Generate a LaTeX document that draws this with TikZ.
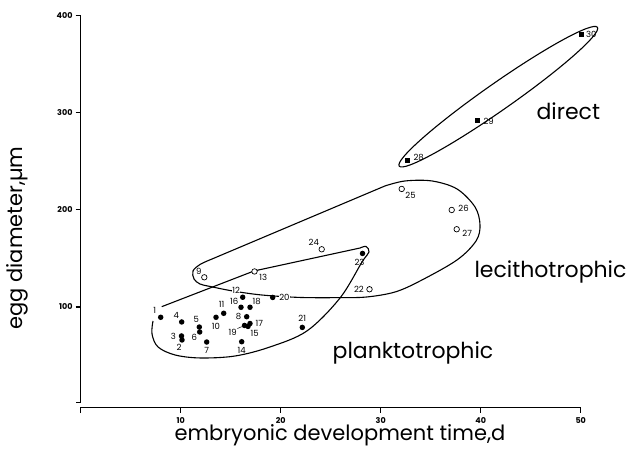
\documentclass[tikz,border=0pt]{standalone}
\usepackage{fontspec}
\setmainfont{Poppins}
\usetikzlibrary{positioning}

\tikzset{
  dot/.style={circle,fill=black,inner sep=0pt,minimum size=5.5pt},
  ring/.style={circle,draw,fill=white,line width=0.7pt,inner sep=0pt,minimum size=5.5pt},
  sqr/.style={rectangle,fill=black,inner sep=0pt,minimum size=5pt},
  num/.style={font=\fontsize{8.5}{8.5}\selectfont,inner sep=0.4pt},
  ticklbl/.style={font=\fontsize{8}{8}\selectfont\bfseries,inner sep=0pt},
  zone/.style={font=\fontsize{22}{22}\selectfont,inner sep=0pt},
  axtitle/.style={font=\fontsize{21}{21}\selectfont,inner sep=0pt},
  rim/.style={line width=1.1pt},
}

\begin{document}
\begin{tikzpicture}[x=10pt,y=0.973pt,node distance=1pt]
\useasboundingbox (-8.07,-48) rectangle (54.53,415.5);

% axes
\draw[rim] (-0.5,400) -- (0,400) -- (0,1.6) -- (-0.5,1.6);
\foreach \v in {100,200,300}
  \draw[rim] (-0.5,\v) -- (0,\v);
\foreach \v in {100,200,300,400}
  \node[ticklbl,anchor=east] (ty\v) at (-0.8,\v) {\v};
\draw[rim] (0,-9.2) -- (0,-3.5) -- (50,-3.5) -- (50,-9.2);
\foreach \t in {10,20,30,40}
  \draw[rim] (\t,-3.5) -- (\t,-9.2);
\foreach \t in {10,20,30,40,50}
  \node[ticklbl] (tx\t) at (\t,-17) {\t};

\node[axtitle,anchor=base] (xtitle) at (25.93,-37.7) {embryonic development time,d};
\node[axtitle,anchor=base,rotate=90] (ytitle) at (-5.77,170.9) {egg diameter,µm};

% zones
\draw[rim] plot[smooth,tension=0.55] coordinates {(7.23,85.6) (7.13,72.3) (7.73,58.9) (9.43,50.7) (11.93,47.6) (15.43,49.6) (18.93,58.9) (22.63,75.4) (25.93,109.2) (28.13,146.2) (28.83,156.5) (28.53,162.2) (27.93,160.6)} -- (17.33,137.0) -- (8.1,100.3);
\draw[rim] plot[smooth,tension=0.55] coordinates {(30.43,224.4) (32.43,229.5) (35.13,229.5) (37.63,221.3) (39.43,202.8) (39.93,184.3) (39.53,167.8) (37.63,148.3) (33.93,126.7) (31.43,115.4) (28.63,110.3) (25.93,109.6) (21.93,109.8) (18.13,112.3) (15.23,116.4) (12.93,121.1) (11.93,123.6) (11.33,128.8) (11.23,137.0) (11.93,143.7) (13.13,149.3)} -- cycle;
\draw[rim,rotate around={35:(41.76,316.1)}] (41.76,316.1) ellipse [x radius=121pt,y radius=13.5pt];

\node[zone,anchor=base] (direct) at (48.76,292.2) {direct};
\node[zone,anchor=base] (lecitho) at (46.98,130.8) {lecithotrophic};
\node[zone,anchor=base] (plankto) at (33.23,47.1) {planktotrophic};

% species
\node[dot] (p1) at (8.0,89.4) {};
\node[dot] (p2) at (10.13,66.1) {};
\node[dot] (p3) at (10.08,70.2) {};
\node[dot] (p4) at (10.1,84.6) {};
\node[dot] (p5) at (11.86,79.4) {};
\node[dot] (p6) at (11.9,74.3) {};
\node[dot] (p7) at (12.6,64.0) {};
\node[dot] (p8) at (16.6,90.0) {};
\node[ring] (p9) at (12.36,130.5) {};
\node[dot] (p10) at (13.53,89.4) {};
\node[dot] (p11) at (14.3,93.5) {};
\node[dot] (p12) at (16.2,110.0) {};
\node[ring] (p13) at (17.38,136.5) {};
\node[dot] (p14) at (16.1,64.3) {};
\node[dot] (p15) at (16.73,80.0) {};
\node[dot] (p16) at (16.03,99.7) {};
\node[dot] (p17) at (16.93,83.0) {};
\node[dot] (p18) at (16.93,99.7) {};
\node[dot] (p19) at (16.38,81.0) {};
\node[dot] (p20) at (19.2,109.8) {};
\node[dot] (p21) at (22.16,79.0) {};
\node[ring] (p22) at (28.88,118.2) {};
\node[dot] (p23) at (28.18,155.0) {};
\node[ring] (p24) at (24.1,159.3) {};
\node[ring] (p25) at (32.1,221.3) {};
\node[ring] (p26) at (37.1,199.7) {};
\node[ring] (p27) at (37.6,179.9) {};
\node[sqr] (p28) at (32.66,250.4) {};
\node[sqr] (p29) at (39.66,291.2) {};
\node[sqr] (p30) at (50.1,380.3) {};

\node[num,above left=1pt and 2pt of p1] (l1) {1};
\node[num,below=1pt of p2,xshift=-3pt] (l2) {2};
\node[num,left=2pt of p3] (l3) {3};
\node[num,above left=1pt and 0pt of p4] (l4) {4};
\node[num,above=1pt of p5,xshift=-3pt] (l5) {5};
\node[num,below left=0pt of p6] (l6) {6};
\node[num,below=2pt of p7] (l7) {7};
\node[num,left=2pt of p8] (l8) {8};
\node[num,above left=0pt of p9] (l9) {9};
\node[num,below=2pt of p10] (l10) {10};
\node[num,above=2pt of p11,xshift=-2pt] (l11) {11};
\node[num,fill=white,above left=1pt and 0pt of p12] (l12) {12};
\node[num,below right=0pt and 2pt of p13] (l13) {13};
\node[num,below=2pt of p14] (l14) {14};
\node[num,below right=1pt and 0pt of p15] (l15) {15};
\node[num,above left=0pt of p16] (l16) {16};
\node[num,right=2pt of p17] (l17) {17};
\node[num,above right=0pt of p18] (l18) {18};
\node[num,below left=1pt and 5pt of p19] (l19) {19};
\node[num,fill=white,right=3pt of p20] (l20) {20};
\node[num,above=2pt of p21] (l21) {21};
\node[num,left=2pt of p22] (l22) {22};
\node[num,below=2pt of p23,xshift=-3pt] (l23) {23};
\node[num,above left=1pt and 0pt of p24] (l24) {24};
\node[num,below right=0pt and 1pt of p25] (l25) {25};
\node[num,right=3pt of p26,yshift=2pt] (l26) {26};
\node[num,below right=-2pt and 3pt of p27] (l27) {27};
\node[num,right=3pt of p28,yshift=3pt] (l28) {28};
\node[num,right=3pt of p29] (l29) {29};
\node[num,right=1pt of p30] (l30) {30};

\draw[line width=0.5pt] (l19.north east) -- (p19);

\end{tikzpicture}
\end{document}
